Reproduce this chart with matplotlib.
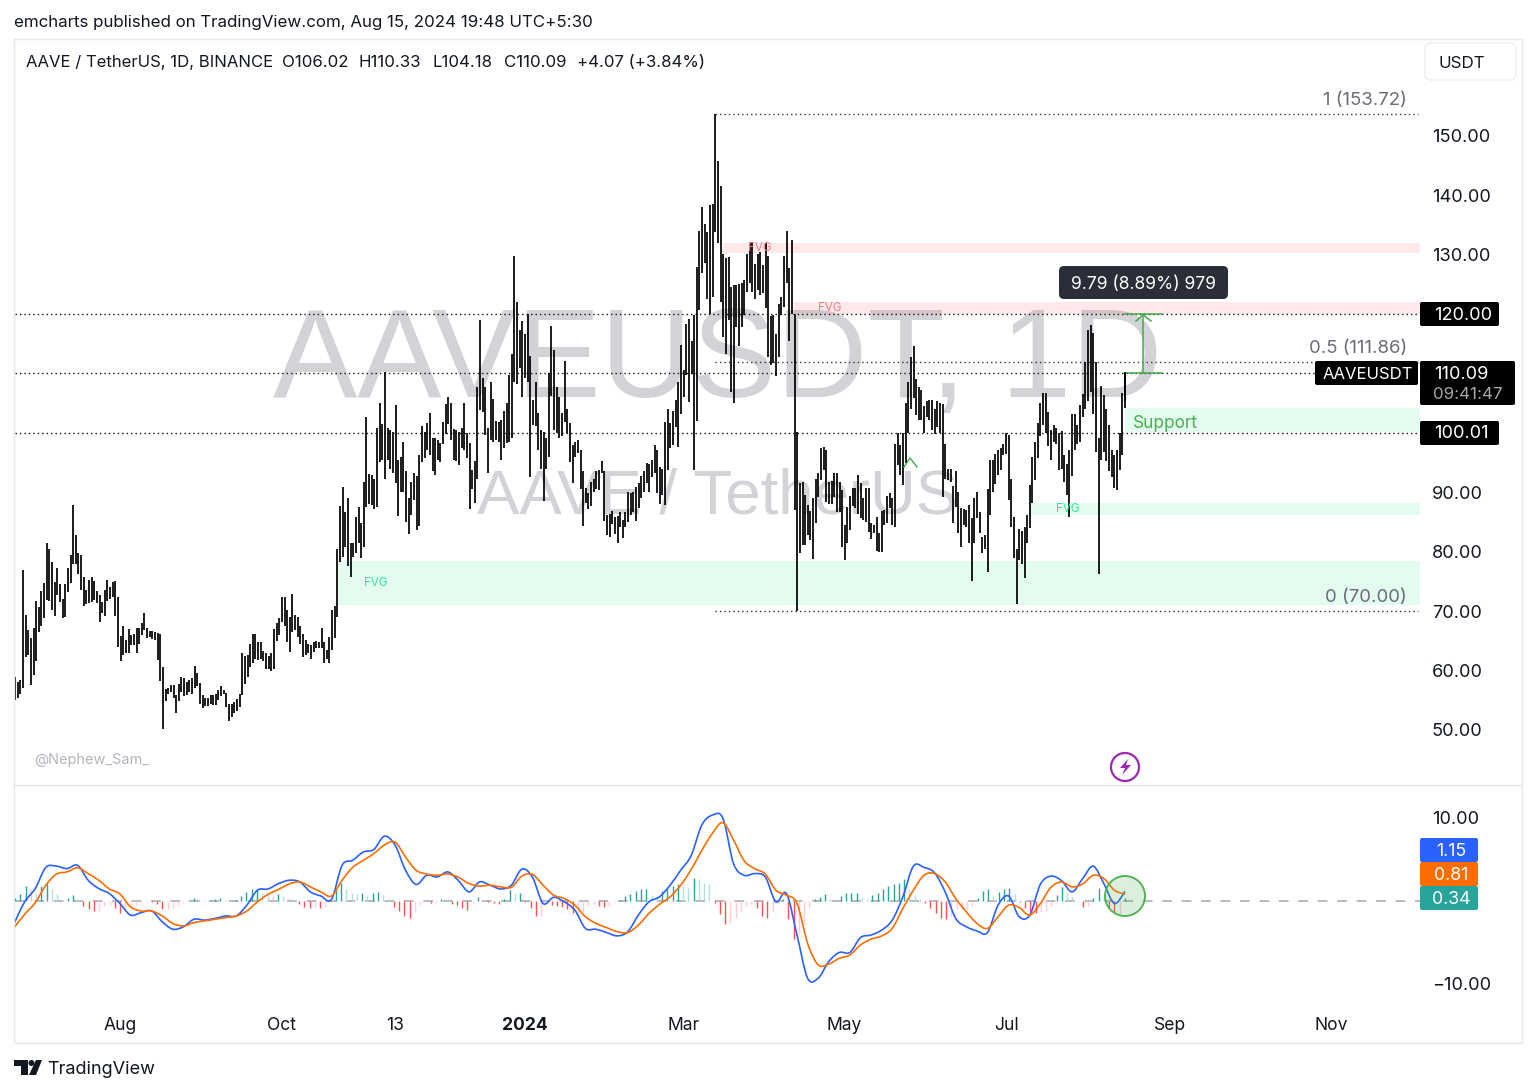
import numpy as np
import pandas as pd
import matplotlib
matplotlib.use('Agg')
import matplotlib.pyplot as plt
from matplotlib.patches import Circle, FancyBboxPatch, PathPatch, Polygon, Rectangle
from matplotlib.path import Path

plt.rcParams['font.family'] = ['Inter', 'DejaVu Sans']

# daily high / low, Jun 2023 .. 15 Aug 2024
bar_high = [
    58.9, 58.1, 58.4, 76.9, 69.3, 66.8, 65.4, 67.2, 71.7, 70.7, 73.4, 74.7, 81.5, 80.5, 78.2, 74.9, 77.3, 74.5, 72.0, 74.5,
    77.2, 79.4, 87.9, 82.8, 79.7, 79.5, 75.8, 73.6, 75.3, 75.7, 75.0, 73.4, 72.7, 71.6, 73.6, 75.2, 74.1, 74.9, 75.1, 72.3,
    65.8, 67.4, 65.1, 66.9, 65.9, 66.2, 67.2, 67.2, 68.0, 69.6, 67.1, 66.7, 66.6, 66.5, 66.3, 66.2, 60.6, 56.8, 57.0, 57.5,
    57.6, 55.9, 57.7, 58.9, 58.8, 58.1, 58.4, 58.7, 60.7, 59.6, 57.9, 55.9, 55.4, 55.4, 55.9, 55.9, 56.1, 56.7, 57.4, 56.7,
    56.2, 54.3, 54.3, 54.6, 55.2, 56.1, 62.9, 62.4, 62.6, 64.5, 66.1, 66.1, 64.8, 64.8, 63.2, 63.0, 62.4, 62.9, 66.9, 68.0,
    68.8, 72.4, 72.4, 70.2, 69.0, 72.8, 69.3, 69.0, 67.4, 66.1, 65.1, 64.5, 64.2, 64.8, 65.0, 64.8, 67.2, 64.8, 63.4, 65.7,
    70.2, 70.8, 80.4, 87.7, 90.9, 86.6, 89.0, 81.4, 81.5, 85.9, 87.5, 84.9, 91.8, 102.6, 93.1, 92.9, 92.2, 100.8, 105.0,
    101.5, 110.2, 100.9, 100.5, 100.2, 104.7, 95.4, 95.9, 98.5, 93.5, 89.0, 91.8, 93.2, 92.7, 96.3, 101.1, 100.1, 101.7, 103.3, 99.1,
    99.1, 98.8, 98.3, 101.9, 104.9, 106.0, 105.0, 100.6, 100.5, 100.2, 100.9, 105.0, 100.0, 98.3, 93.7, 95.2, 107.7, 119.0, 109.2, 107.8,
    100.9, 108.6, 105.7, 102.0, 101.9, 102.2, 103.7, 105.1, 109.7, 113.3, 129.8, 122.1, 117.4, 118.9, 116.6, 120.0, 113.0, 105.5, 108.6, 103.3,
    100.5, 100.2, 99.2, 110.1, 118.0, 113.9, 107.8, 106.1, 103.3, 112.1, 104.1, 101.7, 97.9, 98.5, 98.8, 97.2, 93.6, 90.7, 89.9, 91.8,
    92.2, 93.5, 93.8, 95.3, 93.5, 86.2, 86.4, 86.9, 85.9, 86.0, 86.7, 85.3, 86.7, 90.0, 89.8, 90.0, 90.9, 91.5, 92.7, 93.5,
    94.9, 94.7, 95.5, 97.9, 97.2, 94.3, 94.0, 101.9, 104.0, 101.6, 103.7, 105.6, 108.6, 114.8, 110.6, 118.4, 119.1, 115.5, 119.8, 127.9,
    134.0, 138.1, 135.1, 133.9, 138.4, 138.5, 153.72, 145.8, 141.6, 130.2, 129.4, 129.7, 124.6, 124.9, 124.9, 125.0, 125.3, 125.7, 130.2, 131.9,
    132.0, 128.5, 130.2, 130.5, 128.3, 131.9, 129.8, 119.7, 119.8, 116.6, 121.7, 122.9, 129.8, 134.0, 127.8, 132.5, 120.1, 100.2, 91.5, 91.7,
    89.5, 87.8, 86.9, 89.0, 92.3, 93.2, 97.5, 97.6, 97.2, 91.8, 91.9, 93.3, 93.3, 91.8, 90.4, 84.5, 87.6, 89.3, 90.7, 90.7,
    92.9, 91.5, 89.0, 90.7, 90.7, 84.8, 84.5, 85.9, 83.1, 86.9, 87.0, 89.4, 89.9, 89.0, 98.1, 99.9, 97.9, 100.0, 105.1, 108.5,
    112.8, 114.6, 109.0, 107.8, 107.2, 104.5, 105.4, 105.5, 105.5, 104.1, 105.4, 105.0, 104.9, 98.1, 94.0, 94.0, 91.0, 93.6, 90.0, 87.3,
    87.1, 87.0, 87.9, 85.6, 89.0, 90.1, 86.6,
    82.5, 82.8, 90.6, 95.4, 95.5, 96.4, 97.1, 97.4, 98.1, 100.0, 99.6, 92.3, 85.9, 80.4, 83.8, 83.5, 84.2, 86.2, 91.2, 96.0,
    98.4, 101.6, 105.1, 106.7, 106.8, 103.6, 100.5, 101.3, 100.8, 99.9, 100.4, 96.3, 94.8, 97.1, 103.2, 103.2, 101.3, 104.7, 106.5, 112.0,
    117.3, 118.1, 116.8, 112.0, 99.1, 107.9, 106.4, 104.0, 101.3, 97.1, 96.3, 97.1, 100.0, 106.7, 110.33,
]
bar_low = [
    55.0, 55.4, 56.1, 57.1, 62.3, 62.6, 57.5, 59.2, 61.5, 66.5, 67.4, 68.8, 71.9, 71.7, 70.2, 69.2, 72.7, 71.6, 68.8, 69.0,
    73.2, 74.7, 78.0, 78.0, 76.3, 73.5, 70.8, 71.2, 71.3, 71.6, 71.9, 71.3, 68.1, 69.6, 69.2, 71.7, 72.0, 72.4, 69.2, 64.0,
    61.5, 62.6, 62.9, 62.9, 64.3, 64.3, 62.9, 64.5, 65.9, 66.8, 65.4, 65.6, 65.3, 65.2, 61.7, 58.2, 50.1, 54.8, 56.0, 56.3,
    55.3, 52.8, 54.9, 56.4, 55.7, 55.9, 56.4, 56.1, 57.0, 57.4, 54.3, 53.6, 54.0, 54.0, 54.3, 54.2, 54.2, 55.0, 55.7, 56.0,
    53.9, 51.5, 52.2, 52.9, 53.2, 53.9, 55.9, 57.7, 58.9, 60.5, 61.3, 62.0, 61.7, 62.0, 61.5, 60.3, 60.3, 59.9, 60.3, 65.0,
    65.9, 68.2, 67.4, 64.7, 63.1, 66.4, 66.8, 65.7, 64.5, 62.2, 62.6, 62.9, 61.9, 63.1, 63.7, 63.7, 63.7, 61.2, 62.0, 61.2,
    63.4, 65.4, 69.0, 78.3, 79.1, 80.8, 77.5, 75.8, 79.1, 79.7, 81.4, 79.0, 80.8, 87.6, 88.1, 87.9, 87.1, 87.6, 95.1,
    95.4, 92.3, 95.4, 94.0, 93.2, 91.5, 86.0, 90.1, 90.1, 85.0, 82.9, 86.2, 88.7, 83.6, 84.3, 95.1, 95.7, 97.1, 96.3, 93.5,
    92.9, 95.4, 95.1, 98.1, 99.8, 101.5, 98.8, 95.4, 95.3, 94.6, 97.4, 97.1, 95.7, 87.1, 90.6, 88.2, 92.3, 103.8, 103.6, 99.6,
    93.2, 98.8, 98.5, 98.8, 98.5, 95.5, 97.4, 98.3, 98.5, 99.1, 108.6, 108.3, 110.9, 106.1, 109.2, 108.6, 92.5, 101.3, 101.1, 97.1,
    94.0, 88.5, 94.0, 96.0, 106.2, 100.5, 100.0, 99.2, 99.4, 101.8, 100.0, 95.1, 91.6, 96.0, 96.6, 90.5, 84.4, 88.2, 87.1, 87.7,
    90.1, 90.6, 90.4, 93.2, 85.2, 82.8, 82.4, 84.7, 83.0, 81.5, 84.2, 82.3, 84.1, 85.0, 86.2, 86.7, 85.2, 87.3, 89.1, 90.1,
    91.5, 90.1, 92.6, 93.2, 89.8, 88.1, 89.5, 87.8, 93.8, 97.4, 98.0, 101.0, 97.6, 103.2, 106.1, 109.8, 105.2, 110.0, 93.8, 102.0,
    120.7, 126.9, 128.6, 122.6, 120.1, 122.9, 133.9, 131.9, 122.1, 116.1, 113.3, 119.0, 106.9, 105.1, 117.9, 114.6, 117.9, 119.9, 123.8, 125.2,
    123.8, 122.5, 124.1, 123.2, 123.5, 121.1, 112.8, 111.4, 111.7, 109.5, 112.8, 119.8, 121.2, 125.2, 115.5, 120.1, 87.0, 70.0, 79.8, 81.1,
    81.1, 82.8, 81.9, 78.7, 84.8, 89.2, 92.1, 93.7, 88.4, 88.1, 88.1, 89.2, 86.7, 86.7, 80.8, 78.6, 81.4, 83.6, 87.7, 87.3,
    86.4, 85.6, 85.3, 85.0, 83.3, 82.2, 83.1, 80.1, 80.0, 80.0, 84.5, 84.9, 87.4, 84.5, 84.2, 94.6, 92.9, 91.2, 94.9, 99.9,
    104.1, 105.8, 103.0, 102.2, 102.2, 100.0, 102.7, 102.2, 100.5, 99.8, 101.0, 99.9, 89.2, 92.3, 92.1, 91.8, 84.8, 87.6, 83.1, 80.8,
    84.5, 84.2, 81.4, 75.0, 81.5, 85.6, 83.1,
    79.7, 80.4, 76.6, 86.2, 90.1, 91.4, 92.9, 93.8, 96.3, 96.4, 88.7, 84.1, 78.9, 71.1, 78.6, 78.0, 75.5, 81.4, 83.9, 88.2,
    92.1, 95.7, 99.4, 101.3, 100.0, 97.8, 95.5, 98.4, 98.2, 93.7, 94.0, 91.8, 89.5, 85.8, 92.7, 97.1, 98.1, 98.5, 102.6, 104.0,
    105.3, 106.9, 103.1, 96.8, 76.2, 95.4, 96.7, 95.2, 93.6, 92.6, 90.8, 90.4, 93.7, 96.3, 104.18,
]

# MACD lines, one reading every 4 days up to the last bar
macd_line = [
    -2.7, -0.1, 1.5, 4.05, 4.2, 3.9, 4.3, 2.5, 1.5, 0.9, -0.3, -1.7, -1.4, -1.2, -2.5, -3.4, -3.1, -2.2, -2.3, -2.1,
    -1.8, -1.8, -0.5, 1.3, 1.45, 2.1, 2.5, 2.3, 1.1, 0.6, 0.2, 4.3, 4.9, 5.9, 6.2, 7.8, 6.75, 3.7, 2.0, 3.1,
    2.9, 3.5, 2.45, 1.1, 2.3, 1.9, 1.45,
    1.9, 3.85, 2.85, -0.3, 0.45, -0.1, -1.1, -3.3, -3.4, -3.8, -4.2, -3.7, -1.7, -0.1, 0.5, 1.9, 3.7, 5.5, 9.15, 10.35,
    9.95, 4.5, 3.1, 3.3, 2.9, -0.1, 0.9, -4.1, -9.3, -9.3, -7.3, -6.2, -6.2, -4.4, -4.1, -3.5, -2.3, 0.5, 4.2, 4.05,
    3.4, 1.1, -2.1, -3.1, -3.6, -3.8, -0.5,
    0.6, -1.9, -1.7, 2.0, 3.0, 2.45, 1.1, 2.7, 4.2, 2.1, -0.3, 1.15,
]
signal_line = [
    -3.2, -1.6, -0.2, 1.9, 3.25, 3.5, 4.0, 3.3, 2.5, 1.45, 0.85, -0.7, -1.2, -1.2, -1.8, -2.7, -3.0, -2.6, -2.4, -2.2,
    -2.0, -1.8, -1.2, -0.1, 0.8, 1.4, 2.05, 2.3, 1.7, 1.1, 0.6, 2.5, 4.05, 4.9, 5.7, 6.75, 7.1, 5.3, 3.7, 3.25,
    3.1, 3.25, 2.85, 2.1, 1.8, 1.9, 1.7,
    1.65, 3.0, 3.2, 1.9, 0.7, 0.3, -0.5, -1.9, -2.7, -3.2, -3.7, -3.8, -2.9, -1.5, -0.4, 0.5, 1.9, 3.8, 6.1, 8.15,
    9.45, 7.35, 4.85, 3.9, 3.25, 1.3, 0.7, -0.3, -5.1, -7.7, -7.6, -6.9, -6.5, -5.3, -4.6, -4.2, -3.3, -0.9, 1.3, 3.1,
    3.3, 2.3, 0.3, -1.3, -2.7, -3.3, -1.9,
    -0.5, -0.8, -1.7, -0.3, 1.65, 2.3, 1.7, 2.05, 3.1, 2.7, 1.3, 0.81,
]
# histogram, one reading every 2 days
macd_hist = [
    .4, .8, 1.8, 1.4, 1.0, 1.8, 2.2, 1.4, .8, .12, .4, .72, .12, -.6, -1.0, -1.2, -1.2, -.6, -.48, -.8,
    -1.4, -1.0, -.8, -.48, -.2, -.08, -.12, -.32, -1.0, -1.0, -.88, -.6, -.2, .08, .4, .2, .08, .12, .2, .32,
    .12, .08, .12, .6, 1.12, 1.4, 1.4, 1.0, .8, .6, .88, .6, .32, .08, -.32, -.72, -.88, -.72, -.8, -.72,
    -.08, 1.4, 2.2, 1.4, 1.0, .88, 1.0, .72, 1.0, 1.12, .72, .2, -.72, -1.2, -1.8, -2.0, -1.2, -.48, -.08, -.2,
    -.2, .2, .12, -.4, -.48, -.88, -1.12, -.2, .48, .08, -.12, -.2,
    -.32, .2, 1.32, .8, 1.0, -.08, -.88, -1.8, -1.8, -.2, -.48, -.6, -.72, -1.0, -1.4, -1.4, -1.4, -.6, -.32, -.6,
    -.72, -.6, -.12, .12, .6, .88, 1.2, 1.4, 1.4, .72, .6, 1.2, 1.4, 1.8, 2.0, 1.8, 1.6, 2.8, 2.6, 2.2,
    2.0, -.2, -1.6, -2.8, -2.6, -2.0, -1.2, -.6, -.4, -.8, -1.8, -2.0, -1.2, -.2, .2, -2.2, -4.6, -4.0, -2.8, -.8,
    .2, .48, .88, .2, .12, .6, 1.0, 1.0, 1.0, .4, .2, .72, 1.0, 1.4, 1.8, 2.0, 2.2, 2.6, 1.4, .6,
    .2, -.2, -.8, -1.4, -2.0, -2.2, -1.8, -1.0, -1.0, -1.0, -.6, .4, 1.2, 1.4,
    .6, 1.12, 1.4, 1.52, .88, -.12, -.88, -1.28, -1.4, -1.28, -1.2, -.6, .72, 1.68, 1.12, .48, .08, -.72, -.6, .32,
    1.52, .88, -.88, -1.4, -1.4, .34,
]

last_day = pd.Timestamp('2024-08-15')
tick_dates = ['2023-08-01', '2023-10-01', '2023-11-13', '2024-01-01', '2024-03-01',
              '2024-05-01', '2024-07-01', '2024-09-01', '2024-11-01']
tick_labels = ['Aug', 'Oct', '13', '2024', 'Mar', 'May', 'Jul', 'Sep', 'Nov']
# 100, 110 and 120 are hidden behind the black price tags
price_ticks = [50, 60, 70, 80, 90, 130, 140, 150]
fib_levels = [(153.72, '1 (153.72)'), (111.86, '0.5 (111.86)'), (70.00, '0 (70.00)')]
key_levels = [120.00, 110.09, 100.01]
# top, bottom, first day (days before the last bar)
green_zones = [(78.4, 71.0, -298), (88.2, 86.2, -36), (104.2, 100.1, 0)]
red_zones = [(132.0, 130.3, -152), (122.0, 120.0, -125)]

W, H = 1536, 1092
PPD = 2.645  # pixels per day
DAY_L, DAY_R = (15 - 1125) / PPD, (1420 - 1125) / PPD


def ax_at(left, top, right, bottom):
    return fig.add_axes([left / W, 1 - bottom / H, (right - left) / W, (bottom - top) / H])


def tag(x0, y0, x1, y1, color, radius=2):
    over.add_patch(FancyBboxPatch((x0 + radius, y0 + radius), x1 - x0 - 2 * radius, y1 - y0 - 2 * radius,
                                  boxstyle=f'round,pad={radius},rounding_size={radius}', fc=color, ec='none'))


def curve_through(target, xs, ys, color, lw, zorder):
    # Bezier curve through the readings, the chart's lines have no corners
    pts = np.column_stack([xs, ys])
    n = len(pts)
    verts = [pts[0]]
    codes = [Path.MOVETO]
    for i in range(n - 1):
        p0, p1, p2, p3 = pts[max(i - 1, 0)], pts[i], pts[i + 1], pts[min(i + 2, n - 1)]
        verts += [p1 + (p2 - p0) / 6, p2 - (p3 - p1) / 6, p2]
        codes += [Path.CURVE4] * 3
    target.add_patch(PathPatch(Path(verts, codes), fc='none', ec=color, lw=lw, zorder=zorder))


fig = plt.figure(figsize=(W / 100, H / 100), dpi=100)

ax = ax_at(15, 39, 1420, 785)
macd = ax_at(15, 786, 1420, 1005)
over = fig.add_axes([0, 0, 1, 1], zorder=10)
over.set_xlim(0, W)
over.set_ylim(H, 0)
over.axis('off')

# price pane
ax.set_xlim(DAY_L, DAY_R)
ax.set_ylim(150 - (785 - 136) / 5.9375, 150 + (136 - 39) / 5.9375)
wm = '#d2d3d7'
ax.text(0.5, 0.564, 'AAVEUSDT, 1D', transform=ax.transAxes, fontsize=91, color=wm,
        ha='center', va='center', family='Liberation Sans', zorder=0)
ax.text(0.5, 0.386, 'AAVE / TetherUS', transform=ax.transAxes, fontsize=45.7, color=wm,
        ha='center', va='center', family='Liberation Sans', zorder=0)

for top, bot, day in green_zones:
    ax.axhspan(bot, top, xmin=(day - DAY_L) / (DAY_R - DAY_L), color='#00e676', alpha=0.11, lw=0, zorder=1)
for top, bot, day in red_zones:
    ax.axhspan(bot, top, xmin=(day - DAY_L) / (DAY_R - DAY_L), color='#f23645', alpha=0.11, lw=0, zorder=1)

days = np.linspace(DAY_L, 0, len(bar_high))
ax.vlines(days, bar_low, bar_high, color='black', lw=1.25, zorder=3)

for lvl in key_levels:
    ax.axhline(lvl, color='#111111', lw=1, ls=(0, (1, 2.2)), zorder=2)
peak_day = days[int(np.argmax(bar_high))]
for lvl, label in fib_levels:
    ax.hlines(lvl, peak_day, (1418 - 1125) / PPD, color='#333333', lw=1, ls=(0, (1, 2.2)), zorder=2)
    ax.text((1407 - 1125) / PPD, lvl + 2.3, label, color='#6a6d78', fontsize=13.4, ha='right', va='center')

ax.set_xticks([])
ax.yaxis.tick_right()
ax.set_yticks(price_ticks)
ax.set_yticklabels([f'{p:.2f}' for p in price_ticks], fontsize=13.1, color='#131722')
ax.tick_params(axis='y', length=0, pad=8.5)
for s in ax.spines.values():
    s.set_visible(False)

# MACD pane
macd.set_xlim(DAY_L, DAY_R)
macd.set_ylim((901 - 1005) / 8.3, (901 - 786) / 8.3)
macd.axhline(0, color='#b8bac2', lw=1.4, ls=(0, (5, 5)), zorder=1)
hist = np.array(macd_hist)
hist_days = np.linspace(days[0], 0, len(hist))
prev = np.r_[hist[0], hist[:-1]]
hist_colors = np.where(hist >= 0, np.where(hist >= prev, '#26a69a', '#b2dfdb'),
                       np.where(hist < prev, '#ff5252', '#ffcdd2'))
macd.vlines(hist_days, 0, hist, colors=hist_colors, lw=1.0, zorder=2)
line_days = np.linspace(-420, 0, len(macd_line))
curve_through(macd, line_days, macd_line, '#2962ff', 1.2, 3)
curve_through(macd, line_days, signal_line, '#ff6d00', 1.2, 4)

macd.yaxis.tick_right()
macd.set_yticks([10, -10])
macd.set_yticklabels(['10.00', '\u221210.00'], fontsize=13.1, color='#131722')
macd.tick_params(axis='y', length=0, pad=8.5)
tick_days = [(pd.Timestamp(d) - last_day).days for d in tick_dates]
macd.set_xticks(tick_days)
macd.set_xticklabels(tick_labels, fontsize=12.6, color='#131722')
macd.get_xticklabels()[3].set_fontweight('bold')
macd.tick_params(axis='x', length=0, pad=9)
for s in macd.spines.values():
    s.set_visible(False)

# frame and separators
over.add_patch(Rectangle((14, 39), 1508, 1004, fc='none', ec='#e6e8ee', lw=1))
over.plot([14, 1522], [785, 785], color='#e0e3eb', lw=1)

# header
over.text(14, 23, 'emcharts published on TradingView.com, Aug 15, 2024 19:48 UTC+5:30',
          fontsize=12.2, color='#131722', va='center')
over.text(26, 62.5, 'AAVE / TetherUS, 1D, BINANCE', fontsize=12, color='#131722', va='center')
for x, label in [(282, 'O106.02'), (358, 'H110.33'), (433, 'L104.18'), (504, 'C110.09'), (577, '+4.07 (+3.84%)')]:
    over.text(x, 62.5, label, fontsize=12.1, color='#131722', va='center')
over.add_patch(FancyBboxPatch((1431, 49), 79, 25, boxstyle='round,pad=6,rounding_size=6', fc='white', ec='#eceef2', lw=1))
over.text(1438, 63.5, 'USDT', fontsize=12.2, color='#131722', va='center')

# price tags
tag(1420, 302, 1499, 326, 'black')
over.text(1434, 315.5, '120.00', color='white', fontsize=13.1, va='center')
tag(1420, 421, 1499, 445, 'black')
over.text(1434, 434, '100.01', color='white', fontsize=13.1, va='center')
tag(1420, 361, 1515, 405, 'black')
over.text(1434, 374.5, '110.09', color='white', fontsize=13.1, va='center')
over.text(1433, 394.5, '09:41:47', color='#a6a8ae', fontsize=12.2, va='center')
tag(1315, 361, 1418, 385, 'black')
over.text(1323, 374.5, 'AAVEUSDT', color='white', fontsize=12, va='center')
for y0, color, label in [(838, '#2962ff', '1.15'), (862, '#ff6d00', '0.81'), (886, '#26a69a', '0.34')]:
    tag(1420, y0, 1478, y0 + 24, color)
    over.text(1451, y0 + 13.5, label, color='white', fontsize=12.8, va='center', ha='center')

# zone labels
for x, y, c in [(376, 583, '#2fe89b'), (1068, 509, '#2fe89b'), (760, 248, '#f77c80'), (830, 308, '#f77c80')]:
    over.text(x, y, 'FVG', color=c, fontsize=8.4, ha='center', va='center')
over.text(1133, 424, 'Support', color='#4caf50', fontsize=12.4, va='center')

# measure tool
green = '#43a94b'
over.plot([1125, 1162], [314, 314], color=green, lw=1.1)
over.plot([1125, 1162], [373, 373], color=green, lw=1.1)
over.plot([1125, 1125], [373, 400], color='black', lw=1.25)
over.plot([1143, 1143], [373, 315], color=green, lw=1.1)
over.plot([1136, 1143, 1151], [321, 315, 321], color=green, lw=1.1)
tag(1059, 266, 1228, 299, '#2a2e39', radius=5)
over.text(1143.5, 284.5, '9.79 (8.89%) 979', color='white', fontsize=12.6, ha='center', va='center')
over.plot([904, 910, 917], [467, 458, 467], color=green, lw=1)

# watermark handle, bolt, circle
over.text(34, 760, '@Nephew_Sam_', color='#b4b6bd', fontsize=10.5, va='center')
purple = '#9c27b0'
over.add_patch(Circle((1125, 767), 14, fc='white', ec=purple, lw=1.6))
over.add_patch(Polygon([(1128, 759), (1120, 768), (1125, 768), (1122, 775), (1131, 765), (1126, 765)], fc=purple, ec='none'))
over.add_patch(Circle((1125, 896), 20, fc='#4caf50', alpha=0.2, ec='none'))
over.add_patch(Circle((1125, 896), 20, fc='none', ec='#4caf50', lw=1.3))

# logo
over.add_patch(Polygon([(14, 1060), (28, 1060), (28, 1075), (21, 1075), (21, 1066), (14, 1066)], fc='#131722', ec='none'))
over.add_patch(Circle((31.5, 1063), 3, fc='#131722', ec='none'))
over.add_patch(Polygon([(36, 1060), (42, 1060), (36, 1075), (29, 1075)], fc='#131722', ec='none'))
over.text(47, 1070, 'TradingView', color='#131722', fontsize=13, va='center')

fig.savefig('out.png', dpi=100)
